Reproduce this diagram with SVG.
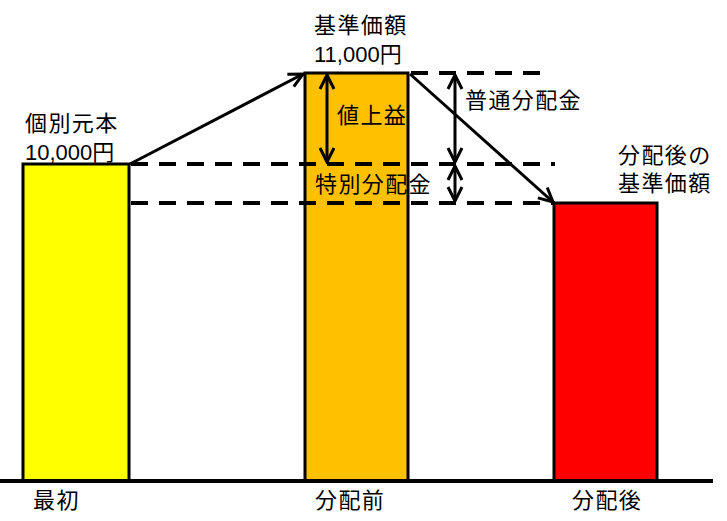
<svg xmlns="http://www.w3.org/2000/svg" width="727" height="521" viewBox="0 0 727 521">
<defs>
<style>
.bar{stroke:#000;stroke-width:3}
.dash{stroke:#000;stroke-width:4;stroke-dasharray:17 11;fill:none}
.arr{stroke:#000;stroke-width:3;fill:none}
text{font-family:"Noto Sans CJK JP","Noto Sans CJK SC",sans-serif;font-size:22px;fill:#000;letter-spacing:1.4px}
.num{font-family:"Liberation Sans","Noto Sans CJK JP",sans-serif;letter-spacing:0}
</style>
<marker id="head" viewBox="0 0 20 20" refX="18" refY="10" markerWidth="20" markerHeight="20" markerUnits="userSpaceOnUse" orient="auto-start-reverse">
<path d="M4,3 L18,10 L4,17" fill="none" stroke="#000" stroke-width="3" stroke-linejoin="miter"/>
</marker>
</defs>
<rect width="727" height="521" fill="#fff"/>
<g id="bar-initial">
<rect class="bar" x="23" y="164" width="106" height="317" fill="#FFFF00"/>
</g>
<g id="bar-before">
<rect class="bar" x="305" y="73" width="103" height="408" fill="#FFC000"/>
</g>
<g id="bar-after">
<rect class="bar" x="554" y="203" width="103" height="278" fill="#FF0000"/>
</g>
<g id="connectors">
<line class="dash" x1="411" y1="73" x2="540" y2="73"/>
<line class="dash" x1="131" y1="164" x2="555" y2="164"/>
<line class="dash" x1="131" y1="203" x2="555" y2="203"/>
<line class="arr" x1="130" y1="164" x2="303" y2="74" marker-end="url(#head)"/>
<line class="arr" x1="410" y1="74" x2="553" y2="202" stroke-width="2.5" marker-end="url(#head)"/>
<line class="arr" x1="327" y1="75" x2="327" y2="162" marker-start="url(#head)" marker-end="url(#head)"/>
<line class="arr" x1="455" y1="75" x2="455" y2="162" marker-start="url(#head)" marker-end="url(#head)"/>
<line class="arr" x1="455" y1="166" x2="455" y2="201" marker-start="url(#head)" marker-end="url(#head)"/>
<line x1="0" y1="481" x2="713" y2="481" stroke="#000" stroke-width="4"/>
</g>
<g id="labels">
<text x="25" y="131">個別元本</text>
<text class="num" x="25" y="160">10,000円</text>
<text x="314" y="33">基準価額</text>
<text class="num" x="314" y="62">11,000円</text>
<text x="337" y="123">値上益</text>
<text x="465" y="108">普通分配金</text>
<text x="315" y="192">特別分配金</text>
<text x="618" y="163">分配後の</text>
<text x="618" y="191">基準価額</text>
<text x="33" y="508">最初</text>
<text x="315" y="508">分配前</text>
<text x="572" y="508">分配後</text>
</g>
</svg>
